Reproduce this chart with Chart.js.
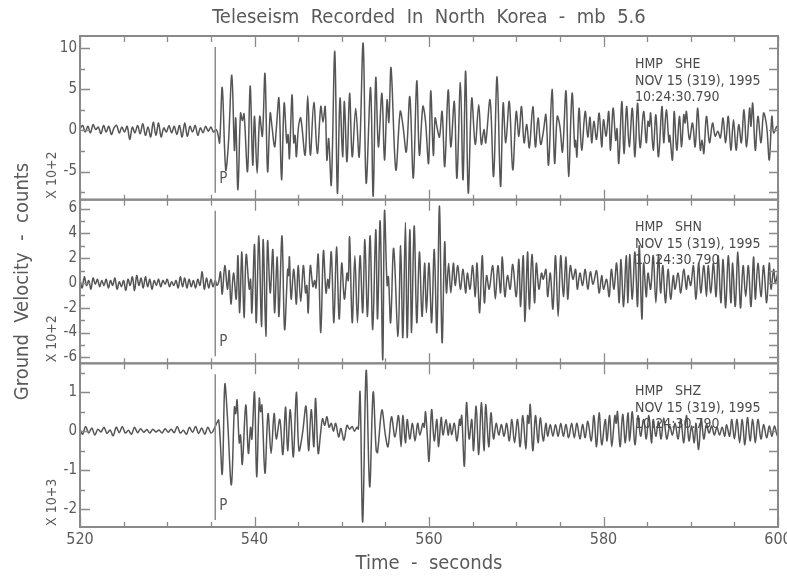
<!DOCTYPE html>
<html>
<head>
<meta charset="utf-8">
<script src="https://cdn.jsdelivr.net/npm/chart.js@4"></script>
<style>
  html, body { margin: 0; padding: 0; background: #fff; }
</style>
</head>
<body>
<canvas id="seis" width="787" height="579"></canvas>
<script>
// seismogram picks: [time (s), velocity]
const sheTrace = [
  [520.0,0.2],[520.3,0.6],[520.6,-0.2],[520.9,0.5],[521.2,-0.3],[521.5,0.7],[521.8,0.1],[522.1,0.4],[522.4,-0.4],[522.7,0.6],
  [523.0,-0.2],[523.3,0.5],[523.6,-0.5],[523.9,0.3],[524.2,0.6],[524.5,-0.3],[524.8,0.4],[525.1,-0.2],[525.4,0.5],[525.7,-1.1],
  [526.0,0.4],[526.3,-0.3],[526.6,0.6],[526.9,-0.4],[527.2,0.8],[527.5,-0.6],[527.8,0.4],[528.1,-0.8],[528.4,1.0],[528.7,-0.6],
  [529.0,0.9],[529.3,-0.8],[529.6,0.3],[529.9,-0.2],[530.2,0.6],[530.5,-0.3],[530.8,0.5],[531.1,-0.5],[531.4,0.6],[531.7,-0.8],
  [532.0,0.9],[532.3,-0.7],[532.6,0.5],[532.9,-0.2],[533.2,0.6],[533.5,-0.6],[533.8,0.3],[534.1,-0.3],[534.4,0.5],[534.7,-0.1],
  [535.0,0.4],[535.3,-0.2],[535.6,0.1],[535.8,-0.4],[536.0,-1.5],[536.3,5.2],[536.7,-4.8],[537.0,-1.8],[537.4,6.7],[537.7,-2.4],
  [537.85,1.5],[538.1,-7.2],[538.4,2.1],[538.6,1.2],[538.8,2.0],[539.2,-5.0],[539.5,5.4],[539.8,-4.2],[540.0,1.7],[540.3,-5.2],
  [540.6,1.7],[540.9,-0.7],[541.2,6.9],[541.5,-5.0],[541.8,2.1],[542.0,0.5],[542.3,-2.0],[542.5,0.2],[542.8,3.9],[543.1,-6.0],
  [543.4,3.3],[543.7,-1.5],[543.85,-0.5],[544.0,-3.4],[544.3,4.3],[544.5,-1.5],[544.65,-0.6],[544.8,-3.2],[545.05,0.5],[545.3,1.5],
  [545.8,-3.0],[546.1,4.2],[546.4,-3.0],[546.8,3.4],[547.2,-2.8],[547.6,2.9],[547.85,1.0],[548.1,2.9],[548.3,-3.6],[548.5,-1.0],
  [548.8,-6.6],[549.2,9.6],[549.5,-7.6],[549.8,3.9],[550.1,-3.2],[550.3,3.5],[550.6,-3.8],[550.9,4.5],[551.2,-3.2],[551.6,2.7],
  [552.0,-3.2],[552.45,10.6],[552.8,-6.4],[553.3,5.2],[553.6,-8.0],[553.9,6.4],[554.2,-2.0],[554.6,4.5],[554.9,-3.6],[555.2,3.7],
  [555.4,1.0],[555.65,7.6],[556.2,-4.8],[556.7,2.3],[557.0,0.7],[557.4,-2.6],[557.8,4.1],[558.2,-5.8],[558.6,6.0],[558.9,-3.0],
  [559.3,2.9],[559.6,1.1],[559.95,-4.0],[560.2,4.8],[560.5,-3.0],[560.7,1.5],[560.95,0.2],[561.2,-0.8],[561.5,2.3],[561.8,-4.4],
  [562.2,4.9],[562.5,-2.0],[562.9,3.5],[563.2,-5.8],[563.6,5.8],[563.9,-6.0],[564.2,7.2],[564.5,-7.6],[564.9,3.9],[565.3,-1.7],
  [565.7,3.1],[566.0,-1.7],[566.3,0.1],[566.5,-1.5],[567.0,3.7],[567.4,-5.6],[567.8,6.5],[568.2,-6.8],[568.5,3.3],[568.8,-1.5],
  [569.2,3.5],[569.6,-4.8],[570.0,2.3],[570.3,-0.7],[570.6,2.9],[570.9,-1.5],[571.2,0.7],[571.5,-2.1],[571.9,2.9],[572.2,-2.0],
  [572.5,1.5],[572.8,-1.7],[573.1,-0.2],[573.4,1.9],[573.7,-4.2],[574.1,5.0],[574.4,-4.0],[574.7,1.7],[575.0,0.5],[575.3,-2.6],
  [575.7,4.8],[576.0,-5.6],[576.4,4.5],[576.7,-2.0],[576.8,-1.2],[576.95,-3.2],[577.2,2.7],[577.5,-2.4],[577.9,2.3],[578.2,-0.8],
  [578.45,1.6],[578.65,-1.5],[578.9,1.1],[579.2,-1.1],[579.5,2.1],[579.8,-2.0],[580.0,1.3],[580.3,-0.7],[580.6,2.3],[580.8,-2.4],
  [581.1,2.7],[581.4,-1.2],[581.55,0.2],[581.75,-4.0],[582.1,3.5],[582.35,-2.8],[582.65,2.9],[582.95,-2.0],[583.3,2.7],[583.6,-3.2],
  [583.9,3.3],[584.2,-2.1],[584.6,2.3],[584.9,-1.5],[585.1,1.1],[585.25,0.5],[585.4,2.1],[585.7,-2.4],[586.0,1.9],[586.3,-3.2],
  [586.7,2.9],[586.9,-1.5],[587.2,2.5],[587.5,-1.4],[587.6,-0.6],[587.9,-3.6],[588.1,2.3],[588.4,-2.4],[588.7,1.7],[588.95,-2.0],
  [589.2,1.9],[589.35,0.9],[589.5,2.3],[589.85,-1.1],[590.2,0.9],[590.5,-2.0],[590.8,2.7],[591.1,-2.4],[591.3,-1.2],[591.5,-2.8],
  [591.8,1.7],[592.15,-1.5],[592.5,0.9],[592.8,-0.7],[593.1,-0.1],[593.4,-0.9],[593.7,1.5],[594.0,-1.5],[594.3,1.7],[594.6,-2.4],
  [594.9,1.3],[595.2,-2.4],[595.5,0.7],[595.8,-1.5],[596.1,2.5],[596.4,-2.0],[596.75,2.7],[596.9,0.5],[597.1,3.3],[597.4,-2.4],
  [597.7,1.7],[598.05,-1.5],[598.35,2.1],[598.7,0.5],[599.0,-3.6],[599.3,1.7],[599.5,-0.3],[599.9,0.5],[600.2,-0.7]
];
const shnTrace = [
  [520.0,0.3],[520.25,-0.4],[520.5,0.5],[520.75,-0.2],[521.0,0.2],[521.25,-0.5],[521.5,0.4],[521.75,-0.1],[522.0,0.3],[522.25,-0.3],
  [522.5,0.2],[522.75,-0.2],[523.0,0.3],[523.25,-0.4],[523.5,0.2],[523.75,-0.2],[524.0,0.4],[524.25,-0.5],[524.5,0.1],[524.75,-0.3],
  [525.0,0.2],[525.25,-0.6],[525.5,0.3],[525.75,-0.2],[526.0,0.5],[526.25,-0.6],[526.5,0.6],[526.75,-0.2],[527.0,0.4],[527.25,-0.4],
  [527.5,0.5],[527.75,-0.3],[528.0,0.3],[528.25,-0.5],[528.5,0.2],[528.75,-0.2],[529.0,0.3],[529.25,-0.3],[529.5,0.2],[529.75,-0.1],
  [530.0,0.3],[530.25,-0.3],[530.5,0.1],[530.75,-0.2],[531.0,0.2],[531.25,-0.4],[531.5,0.5],[531.75,-0.3],[532.0,0.4],[532.25,-0.4],
  [532.5,0.3],[532.75,-0.3],[533.0,0.2],[533.25,-0.4],[533.5,0.3],[533.75,-0.2],[534.0,0.9],[534.25,-0.5],[534.5,0.4],[534.75,-0.4],
  [535.0,0.3],[535.25,-0.3],[535.5,0.2],[535.7,-0.2],[535.9,0.1],[536.1,0.9],[536.3,-0.9],[536.6,1.4],[536.9,-0.5],[537.1,1.0],
  [537.3,-1.7],[537.6,0.8],[537.9,-1.3],[538.1,2.2],[538.3,-2.4],[538.55,2.5],[538.8,-2.8],[539.05,2.3],[539.4,-0.5],[539.55,0.3],
  [539.7,-2.4],[540.0,3.1],[540.2,-3.2],[540.5,3.8],[540.8,-3.5],[541.0,3.5],[541.3,-4.3],[541.5,3.4],[541.8,-0.8],[542.1,2.7],
  [542.3,-2.4],[542.6,2.1],[542.8,-2.7],[543.15,3.8],[543.45,-3.75],[543.8,1.1],[543.9,0.6],[544.0,2.1],[544.2,-1.3],[544.5,1.1],
  [544.8,-1.7],[545.0,1.4],[545.3,-1.5],[545.6,1.4],[545.85,-0.8],[546.0,-0.2],[546.15,-2.4],[546.4,1.4],[546.7,-0.3],[546.9,0.2],
  [547.05,-0.4],[547.3,2.3],[547.6,-4.0],[547.9,2.6],[548.2,-0.8],[548.4,0.3],[548.55,-0.4],[548.8,2.5],[549.1,-3.2],[549.4,2.9],
  [549.7,-2.9],[550.0,1.6],[550.3,-1.3],[550.6,0.8],[550.75,0.2],[550.9,3.7],[551.2,-3.2],[551.5,2.2],[551.8,-3.2],[552.1,2.2],
  [552.4,-2.4],[552.65,3.5],[552.95,-2.7],[553.25,3.8],[553.55,-3.75],[553.9,4.3],[554.1,-2.9],[554.4,5.0],[554.7,-6.2],[554.9,5.8],
  [555.2,-0.2],[555.35,0.5],[555.6,-3.2],[555.95,2.8],[556.45,-4.3],[556.75,3.0],[557.0,-4.4],[557.3,4.9],[557.5,-4.4],[557.8,4.3],
  [558.0,-4.0],[558.3,4.6],[558.6,-3.2],[558.9,2.5],[559.2,-2.7],[559.5,1.6],[559.7,-2.4],[560.0,1.6],[560.3,-3.2],[560.6,2.7],
  [560.9,-4.0],[561.2,6.2],[561.5,-4.8],[561.8,3.3],[562.0,-0.8],[562.25,1.6],[562.5,-0.8],[562.8,1.6],[563.0,-0.2],[563.3,1.4],
  [563.6,-0.5],[563.9,1.1],[564.2,-0.8],[564.4,0.8],[564.7,-0.5],[565.0,1.4],[565.3,-1.1],[565.5,1.6],[565.8,-2.4],[566.1,2.2],
  [566.35,-1.6],[566.6,0.6],[566.9,-0.5],[567.3,1.4],[567.6,-1.3],[567.9,1.4],[568.2,-0.8],[568.4,2.1],[568.7,-1.1],[569.0,0.6],
  [569.3,-0.5],[569.6,1.5],[570.0,-1.1],[570.3,1.9],[570.5,-1.9],[570.8,2.2],[571.0,-3.1],[571.3,2.5],[571.5,-2.1],[571.8,2.3],
  [572.1,-1.6],[572.3,1.6],[572.6,-0.5],[572.9,0.8],[573.1,0.3],[573.4,1.1],[573.6,-1.1],[573.9,0.8],[574.2,-2.1],[574.5,2.2],
  [574.8,-2.7],[575.1,2.2],[575.4,-1.1],[575.7,2.1],[575.9,-1.3],[576.2,1.4],[576.5,0.3],[576.8,1.1],[577.0,-0.5],[577.3,0.8],
  [577.6,-0.2],[577.9,1.1],[578.2,-0.5],[578.5,0.9],[578.8,-0.1],[579.2,1.0],[579.5,-0.8],[579.8,0.6],[580.0,-0.5],[580.35,0.3],
  [580.65,-1.1],[580.9,1.1],[581.2,-0.5],[581.5,1.6],[581.8,-1.6],[582.0,1.9],[582.3,-1.9],[582.6,2.2],[582.8,-1.6],[583.0,2.3],
  [583.3,-1.3],[583.6,2.5],[583.9,-1.9],[584.1,3.0],[584.4,-2.9],[584.6,1.6],[584.9,-1.1],[585.1,0.8],[585.4,-0.5],[585.7,2.2],
  [586.0,-1.6],[586.3,2.2],[586.55,-0.8],[586.8,1.4],[587.1,-1.6],[587.4,1.1],[587.7,-1.3],[588.0,0.6],[588.2,-0.5],[588.55,0.8],
  [588.85,-0.8],[589.2,1.1],[589.5,-0.5],[589.7,0.6],[590.0,-0.2],[590.3,1.4],[590.6,-1.3],[590.9,1.6],[591.15,-0.8],[591.5,1.4],
  [591.8,-1.1],[592.0,1.4],[592.3,-0.8],[592.6,1.6],[592.9,-1.1],[593.15,2.2],[593.45,-1.6],[593.7,1.9],[594.0,-2.0],[594.3,2.2],
  [594.6,-1.6],[594.8,1.6],[595.1,-1.9],[595.4,2.5],[595.7,-2.0],[596.0,1.4],[596.3,-1.1],[596.6,1.4],[596.9,-1.9],[597.2,2.1],
  [597.4,-1.3],[597.7,1.6],[598.05,-1.1],[598.35,1.4],[598.7,-1.6],[599.0,1.6],[599.2,-0.5],[599.5,1.1],[599.7,0.0],[600.1,1.4]
];
const shzTrace = [
  [520.0,0.05],[520.3,-0.08],[520.65,0.12],[521.0,-0.05],[521.35,0.08],[521.7,-0.1],[522.05,0.05],[522.4,-0.02],[522.75,0.1],[523.1,-0.06],
  [523.45,0.03],[523.8,-0.12],[524.15,0.1],[524.5,-0.04],[524.85,0.12],[525.2,-0.05],[525.55,0.02],[525.9,-0.08],[526.25,0.1],[526.6,-0.04],
  [526.95,0.06],[527.3,-0.03],[527.65,0.04],[528.0,-0.05],[528.35,0.05],[528.7,-0.02],[529.05,0.03],[529.4,-0.05],[529.75,0.06],[530.1,-0.03],
  [530.45,0.05],[530.8,-0.04],[531.15,0.12],[531.5,-0.05],[531.85,0.02],[532.2,-0.08],[532.55,0.1],[532.9,-0.03],[533.25,0.12],[533.6,-0.06],
  [533.95,0.08],[534.3,-0.08],[534.65,0.1],[535.0,-0.05],[535.3,0.02],[535.56,0.15],[535.9,0.28],[536.3,-1.1],[536.6,1.2],[536.9,0.35],
  [537.35,-1.38],[537.7,0.62],[537.85,0.45],[538.0,0.8],[538.25,-0.3],[538.4,-0.1],[538.6,-0.85],[539.0,0.67],[539.3,-0.57],[539.55,0.1],
  [539.7,-0.2],[540.0,1.0],[540.25,-1.17],[540.55,0.84],[540.7,0.5],[540.85,0.67],[541.2,-1.08],[541.55,0.45],[541.9,-0.57],[542.25,0.45],
  [542.5,-0.2],[542.9,0.3],[543.25,-0.6],[543.55,0.62],[543.8,-0.5],[544.1,0.55],[544.45,-0.66],[544.8,1.0],[545.1,-0.5],[545.5,-0.06],
  [545.9,0.64],[546.2,-0.5],[546.5,0.55],[546.8,-0.4],[547.0,0.84],[547.3,-0.57],[547.6,0.0],[547.8,0.32],[548.05,0.15],[548.3,0.37],
  [548.55,0.1],[548.8,0.2],[549.05,0.0],[549.3,0.2],[549.65,-0.15],[549.9,0.07],[550.25,-0.23],[550.6,0.15],[550.9,0.05],[551.2,0.12],
  [551.45,0.0],[551.75,0.1],[551.9,0.05],[552.1,1.0],[552.4,-2.33],[552.8,1.56],[553.2,-1.43],[553.6,1.0],[553.95,-0.5],[554.1,-0.55],
  [554.6,0.54],[555.0,-0.1],[555.3,-0.4],[555.7,0.37],[556.1,-0.15],[556.5,0.4],[556.8,-0.4],[557.0,0.4],[557.3,-0.3],[557.5,0.3],
  [557.8,-0.2],[558.1,0.2],[558.4,-0.25],[558.7,0.2],[558.95,-0.1],[559.3,0.2],[559.45,0.1],[559.6,0.5],[559.8,-0.1],[560.0,-0.77],
  [560.3,0.55],[560.6,-0.25],[560.9,0.3],[561.1,-0.4],[561.4,0.35],[561.6,-0.1],[561.95,0.3],[562.2,-0.1],[562.4,0.2],[562.6,-0.1],
  [562.9,0.2],[563.2,-0.25],[563.5,0.3],[563.6,0.15],[563.75,0.4],[564.05,-0.9],[564.3,0.73],[564.6,-0.2],[564.9,0.3],[565.1,-0.5],
  [565.4,0.64],[565.7,-0.6],[566.0,0.73],[566.3,-0.5],[566.5,0.68],[566.85,-0.4],[567.1,0.47],[567.4,-0.2],[567.7,0.2],[568.0,-0.1],
  [568.3,0.17],[568.6,-0.13],[568.9,0.2],[569.2,-0.25],[569.5,0.3],[569.8,-0.3],[570.15,0.3],[570.45,-0.4],[570.75,0.4],[571.1,-0.47],
  [571.3,0.4],[571.45,0.2],[571.6,0.68],[571.9,-0.5],[572.2,0.4],[572.5,-0.3],[572.75,0.34],[573.1,-0.25],[573.4,0.2],[573.6,-0.13],
  [573.9,0.17],[574.2,-0.13],[574.5,0.17],[574.8,-0.13],[575.1,0.2],[575.4,-0.13],[575.7,0.17],[576.0,-0.17],[576.35,0.2],[576.65,-0.17],
  [576.95,0.2],[577.3,-0.2],[577.6,0.17],[577.9,-0.17],[578.2,0.25],[578.6,-0.25],[578.9,0.4],[579.2,-0.4],[579.5,0.47],[579.8,-0.35],
  [580.2,0.3],[580.4,-0.25],[580.7,0.4],[580.95,-0.4],[581.3,0.4],[581.45,0.2],[581.6,0.5],[581.9,-0.4],[582.2,0.43],[582.5,-0.3],
  [582.8,0.47],[583.0,-0.25],[583.3,0.5],[583.6,-0.35],[583.95,0.4],[584.25,-0.13],[584.6,0.3],[584.9,-0.2],[585.2,0.4],[585.5,-0.3],
  [585.7,0.3],[586.0,-0.13],[586.3,0.25],[586.6,-0.2],[586.9,0.34],[587.25,-0.2],[587.6,0.13],[587.9,-0.1],[588.2,0.2],[588.55,-0.2],
  [588.85,0.3],[589.2,-0.3],[589.5,0.4],[589.8,-0.25],[590.1,0.13],[590.4,-0.3],[590.6,0.2],[590.9,-0.47],[591.2,0.3],[591.5,-0.2],
  [591.8,0.17],[592.1,-0.05],[592.4,0.13],[592.7,-0.1],[593.0,0.1],[593.3,-0.1],[593.6,0.1],[593.9,-0.13],[594.1,0.17],[594.45,-0.13],
  [594.7,0.3],[595.0,-0.2],[595.3,0.3],[595.6,-0.3],[595.9,0.3],[596.2,-0.35],[596.5,0.35],[596.8,-0.25],[597.1,0.3],[597.4,-0.3],
  [597.7,0.3],[598.05,-0.2],[598.35,0.17],[598.7,-0.17],[599.0,0.13],[599.3,-0.13],[599.6,0.13],[599.95,-0.13],[600.3,0.05]
];

const timeRange = [520, 600];
const pArrival = 535.5;
const panelIds = ['yShe', 'yShn', 'yShz'];
const panelRanges = [[-8.41, 11.46], [-6.48, 6.72], [-2.46, 1.74]];
const tickSteps = [2.5, 1, 0.5];
const labelSteps = [5, 2, 1];
const stationNames = ['HMP   SHE', 'HMP   SHN', 'HMP   SHZ'];
const recordDate = 'NOV 15 (319), 1995';
const recordTime = '10:24:30.790';
const scaleNotes = ['X 10+2', 'X 10+2', 'X 10+3'];

const FONT = "'Liberation Sans Narrow', 'DejaVu Sans Condensed', sans-serif";
const textGray = '#5a5a5a';
const frameGray = '#8a8a8a';

const isMultiple = (v, step) => Math.abs(v / step - Math.round(v / step)) < 1e-6;

// frames, inward ticks, P marker and station notes, like the old IDL plot
const seisFrames = {
  id: 'seisFrames',
  afterDraw(chart) {
    const { ctx, chartArea } = chart;
    const xs = chart.scales.x;
    const left = chartArea.left, right = chartArea.right;
    ctx.save();
    panelIds.forEach((id, i) => {
      const ys = chart.scales[id];
      const top = ys.top, bottom = ys.bottom;

      ctx.strokeStyle = frameGray;
      ctx.lineWidth = 1.3;
      ctx.beginPath();
      ys.ticks.forEach(t => {
        const py = Math.round(ys.getPixelForValue(t.value)) + 0.5;
        const len = isMultiple(t.value, labelSteps[i]) ? 10 : 5;
        ctx.moveTo(left, py); ctx.lineTo(left + len, py);
        ctx.moveTo(right, py); ctx.lineTo(right - 9, py);
      });
      xs.ticks.forEach(t => {
        const px = Math.round(xs.getPixelForValue(t.value)) + 0.5;
        const major = isMultiple(t.value, 20);
        ctx.moveTo(px, top); ctx.lineTo(px, top + (major ? 11 : 6));
        ctx.moveTo(px, bottom); ctx.lineTo(px, bottom - (major ? 10 : 5));
      });
      ctx.stroke();

      ctx.lineWidth = 2;
      ctx.strokeRect(left, top, right - left, bottom - top);

      // P arrival marker
      const pX = xs.getPixelForValue(pArrival);
      ctx.strokeStyle = '#8c8c8c';
      ctx.lineWidth = 1.5;
      ctx.beginPath();
      ctx.moveTo(pX, top + 11);
      ctx.lineTo(pX, bottom - 7);
      ctx.stroke();

      ctx.fillStyle = textGray;
      ctx.font = '15px ' + FONT;
      ctx.textAlign = 'left';
      ctx.textBaseline = 'middle';
      ctx.fillText('P', pX + 4, bottom - 21);

      ctx.fillStyle = '#4a4a4a';
      ctx.font = '14px ' + FONT;
      ctx.fillText(stationNames[i], 635, top + 28);
      ctx.fillText(recordDate, 635, top + 45);
      ctx.fillText(recordTime, 635, top + 61);

      // amplitude multiplier, rotated along the axis
      ctx.save();
      ctx.translate(52, bottom - 1);
      ctx.rotate(-Math.PI / 2);
      ctx.fillStyle = textGray;
      ctx.font = '14px ' + FONT;
      ctx.textAlign = 'left';
      ctx.fillText(scaleNotes[i], 0, 0);
      ctx.restore();
    });
    ctx.restore();
  }
};

const toPoints = trace => trace.map(([t, v]) => ({ x: t, y: v }));

const traceLine = (trace, axis) => ({
  data: toPoints(trace),
  yAxisID: axis,
  borderColor: '#555',
  borderWidth: 1.5,
  pointRadius: 0,
  tension: 0.35,
  fill: false
});

const panelAxis = (i, weight) => ({
  type: 'linear',
  position: 'left',
  stack: 'traces',
  stackWeight: 1,
  weight: weight,
  min: panelRanges[i][0],
  max: panelRanges[i][1],
  grid: { display: false, drawTicks: false },
  border: { display: false },
  ticks: {
    stepSize: tickSteps[i],
    includeBounds: false,
    autoSkip: false,
    maxTicksLimit: 100,
    padding: 3,
    color: textGray,
    font: { family: FONT, size: 15 },
    callback: v => isMultiple(v, labelSteps[i]) ? String(Math.round(v)) : ''
  },
  afterFit(scale) {
    scale.width = 80;
    scale.paddingTop = 0;
    scale.paddingBottom = 0;
  }
});

const shnAxis = panelAxis(1, 2);
shnAxis.title = {
  display: true,
  text: 'Ground  Velocity  -  counts',
  color: textGray,
  font: { family: FONT, size: 20 },
  padding: { top: 11, bottom: 0 }
};

new Chart(document.getElementById('seis'), {
  type: 'line',
  data: {
    datasets: [
      traceLine(sheTrace, 'yShe'),
      traceLine(shnTrace, 'yShn'),
      traceLine(shzTrace, 'yShz')
    ]
  },
  options: {
    responsive: false,
    animation: false,
    layout: { padding: { top: 4, right: 9, left: 0, bottom: 0 } },
    plugins: {
      legend: { display: false },
      tooltip: { enabled: false },
      title: {
        display: true,
        fullSize: false,
        text: 'Teleseism  Recorded  In  North  Korea  -  mb  5.6',
        color: textGray,
        font: { family: FONT, size: 20, weight: 'normal' },
        padding: { top: 2, bottom: 6 }
      }
    },
    scales: {
      x: {
        type: 'linear',
        min: timeRange[0],
        max: timeRange[1],
        grid: { display: false, drawTicks: false },
        border: { display: false },
        ticks: {
          stepSize: 5,
          autoSkip: false,
          maxRotation: 0,
          maxTicksLimit: 100,
          padding: 3,
          color: textGray,
          font: { family: FONT, size: 16 },
          callback: v => isMultiple(v, 20) ? String(v) : ''
        },
        title: {
          display: true,
          text: 'Time  -  seconds',
          color: textGray,
          font: { family: FONT, size: 20 },
          padding: { top: 0, bottom: 3 }
        },
        afterFit(scale) {
          scale.height = 52;
          scale.paddingLeft = 0;
          scale.paddingRight = 0;
        }
      },
      yShe: panelAxis(0, 3),
      yShn: shnAxis,
      yShz: panelAxis(2, 1)
    }
  },
  plugins: [seisFrames]
});
</script>
</body>
</html>
